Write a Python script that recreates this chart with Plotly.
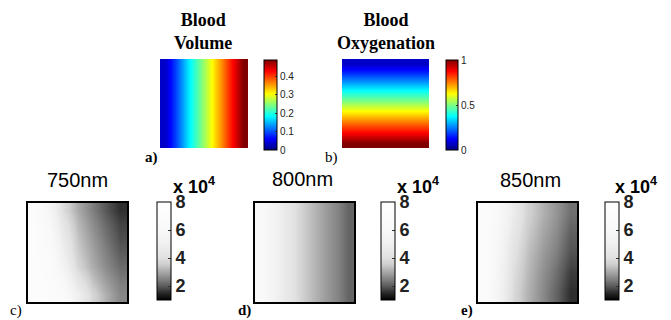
import plotly.graph_objects as go

W, H = 671, 320

# ---------------- data ----------------
# a) Blood volume: varies left -> right (column values), 2 identical rows
bv_cols = [0.035, 0.09, 0.15, 0.205, 0.26, 0.32, 0.375, 0.43, 0.49]
# b) Blood oxygenation: varies top -> bottom (row values)
bo_rows = [0.07, 0.18, 0.30, 0.42, 0.53, 0.65, 0.77, 0.88, 1.0]

# c) 750nm (x10^4), rows top -> bottom
r750 = [
    [7.0, 5.6, 3.9, 3.05, 2.45, 1.95, 1.55],
    [7.0, 6.0, 4.3, 3.25, 2.65, 2.15, 1.75],
    [7.0, 6.4, 4.6, 3.4, 2.8, 2.3, 1.85],
    [7.0, 6.6, 4.9, 3.55, 2.95, 2.45, 2.0],
    [7.1, 6.8, 5.4, 3.75, 3.1, 2.6, 2.2],
    [7.2, 6.9, 6.0, 4.3, 3.4, 2.85, 2.4],
    [7.2, 7.0, 6.6, 5.0, 3.75, 3.1, 2.55],
]
# d) 800nm (x10^4), column values (vertical bands)
r800_cols = [6.2, 5.5, 4.7, 4.05, 3.5, 3.15, 2.8, 2.5, 2.1]
# e) 850nm (x10^4), rows top -> bottom
r850 = [
    [6.8, 6.0, 4.7, 3.65, 3.15, 2.75, 2.25],
    [6.8, 5.8, 4.4, 3.5, 3.0, 2.6, 2.05],
    [6.8, 5.6, 4.15, 3.35, 2.85, 2.45, 1.9],
    [6.8, 5.45, 3.95, 3.25, 2.7, 2.25, 1.7],
    [6.9, 5.3, 3.85, 3.15, 2.6, 2.1, 1.55],
]

bv_ticks = [0, 0.1, 0.2, 0.3, 0.4]
bo_ticks = [0, 0.5, 1]
gray_ticks = [2, 4, 6, 8]

jet = [[0.0, "rgb(0,0,128)"], [0.125, "rgb(0,0,255)"], [0.375, "rgb(0,255,255)"],
       [0.625, "rgb(255,255,0)"], [0.875, "rgb(255,0,0)"], [1.0, "rgb(128,0,0)"]]
gray_pts = [(0, 0), (0.07, 40), (0.14, 90), (0.21, 130), (0.29, 170), (0.36, 205),
            (0.43, 225), (0.57, 240), (0.71, 248), (1.0, 255)]
grayscale = [[t, f"rgb({g},{g},{g})"] for t, g in gray_pts]

def px(x):
    return x / W

def py(y):
    return 1 - y / H

fig = go.Figure()

SANS = "Liberation Sans"
SERIF = "Liberation Serif"

def cbar(x0, thick, ytop, ybot, tickvals, ticktext, small):
    return dict(
        x=px(x0), xanchor="left", xpad=0, ypad=0,
        y=py((ytop + ybot) / 2), yanchor="middle",
        len=ybot - ytop, lenmode="pixels",
        thickness=thick, thicknessmode="pixels",
        outlinewidth=1, outlinecolor="black",
        ticks="inside", ticklen=2 if small else 3, tickcolor="#333",
        tickvals=tickvals, ticktext=ticktext,
        tickfont=dict(family=SANS, size=10 if small else 18, color="#222",
                      weight="normal" if small else "bold"),
    )

panels = []
# a
za = [bv_cols, bv_cols]
fig.add_trace(go.Heatmap(z=za, colorscale=jet, zmin=0, zmax=0.49, zsmooth="best",
                         xaxis="x", yaxis="y",
                         colorbar=cbar(264, 13, 60, 150, bv_ticks, [str(v) for v in bv_ticks], True)))
panels.append(((160, 248), (59, 148), False))
# b
zb = [[v, v] for v in bo_rows]
fig.add_trace(go.Heatmap(z=zb, colorscale=jet, zmin=0, zmax=1, zsmooth="best",
                         xaxis="x2", yaxis="y2",
                         colorbar=cbar(446, 12, 60, 150, bo_ticks, ["0", "0.5", "1"], True)))
panels.append(((342, 429), (59, 148), False))
# c
fig.add_trace(go.Heatmap(z=r750, colorscale=grayscale, zmin=1, zmax=8, zsmooth="best",
                         xaxis="x3", yaxis="y3",
                         colorbar=cbar(157, 14, 202, 300, gray_ticks, [str(v) for v in gray_ticks], False)))
panels.append(((28, 127), (203, 302), True))
# d
zd = [r800_cols, r800_cols]
fig.add_trace(go.Heatmap(z=zd, colorscale=grayscale, zmin=1, zmax=8, zsmooth="best",
                         xaxis="x4", yaxis="y4",
                         colorbar=cbar(381, 14, 202, 300, gray_ticks, [str(v) for v in gray_ticks], False)))
panels.append(((255, 354), (203, 302), True))
# e
fig.add_trace(go.Heatmap(z=r850, colorscale=grayscale, zmin=1, zmax=8, zsmooth="best",
                         xaxis="x5", yaxis="y5",
                         colorbar=cbar(605, 14, 202, 300, gray_ticks, [str(v) for v in gray_ticks], False)))
panels.append(((478, 577), (203, 302), True))

layout = dict(width=W, height=H, margin=dict(l=0, r=0, t=0, b=0),
              paper_bgcolor="white", plot_bgcolor="white", showlegend=False)
for i, ((x0, x1), (y0, y1), border) in enumerate(panels, start=1):
    sx = "" if i == 1 else str(i)
    ax = dict(domain=[px(x0), px(x1)], showgrid=False, zeroline=False,
              showticklabels=False, ticks="", anchor="y" + sx,
              showline=border, linecolor="black", linewidth=2, mirror=True)
    ay = dict(domain=[py(y1), py(y0)], showgrid=False, zeroline=False,
              showticklabels=False, ticks="", anchor="x" + sx, autorange="reversed",
              showline=border, linecolor="black", linewidth=2, mirror=True)
    layout["xaxis" + sx] = ax
    layout["yaxis" + sx] = ay
fig.update_layout(**layout)

def ann(text, x, y, size, family, xanchor="center", bold=False):
    fig.add_annotation(text=text, x=px(x), y=py(y), xref="paper", yref="paper",
                       xanchor=xanchor, yanchor="middle", showarrow=False,
                       font=dict(family=family, size=size, color="black",
                                 weight="bold" if bold else "normal"))

ann("Blood<br>Volume", 203, 31, 18, SERIF, bold=True)
ann("Blood<br>Oxygenation", 386, 31, 18, SERIF, bold=True)
ann("a)", 151, 157, 15, SERIF, bold=True)
ann("b)", 331, 157, 15, SERIF)
ann("c)", 16, 310, 15, SERIF)
ann("d)", 244, 310, 15, SERIF, bold=True)
ann("e)", 467, 310, 15, SERIF, bold=True)
ann("750nm", 77, 180, 20, SANS)
ann("800nm", 302, 179, 20, SANS)
ann("850nm", 530, 180, 20, SANS)
for x0 in (171, 395, 613):
    ann("x 10<sup>4</sup>", x0, 185, 18, SANS, xanchor="left", bold=True)

fig.write_html("out.html")
